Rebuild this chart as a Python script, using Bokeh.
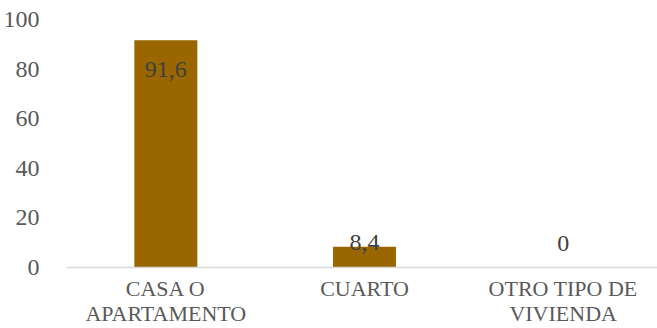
from bokeh.plotting import figure
from bokeh.models import ColumnDataSource, FixedTicker, Range1d
from bokeh.core.properties import value
from bokeh.embed import file_html
from bokeh.resources import INLINE

categories = ["CASA O\nAPARTAMENTO", "CUARTO", "OTRO TIPO DE\nVIVIENDA"]
values = [91.6, 8.4, 0]
labels = ["91,6", "8,4", "0"]
y_ticks = [0, 20, 40, 60, 80, 100]

SERIF = "Liberation Serif"

xs = list(range(len(categories)))
label_off = [29.5 if v > 20 else -24 if v == 0 else -4 for v in values]

src = ColumnDataSource(dict(x=xs, top=values, label=labels, off=label_off))

p = figure(width=657, height=328, output_backend="svg", toolbar_location=None,
           x_range=Range1d(-0.5, -0.5 + 592 / 199), y_range=Range1d(0, 103.6),
           min_border_left=65, min_border_right=0, min_border_top=10, min_border_bottom=59)
p.outline_line_color = None
p.background_fill_color = "white"
p.border_fill_color = "white"

p.vbar(x="x", top="top", width=0.317, bottom=0, source=src, fill_color="#996600", line_color=None)

p.text(x="x", y="top", text="label", y_offset="off", source=src, text_align="center",
       text_baseline="middle", text_font=value(SERIF), text_font_size="24px",
       text_color="#404040")

p.xgrid.visible = False
p.ygrid.visible = False

xa = p.xaxis[0]
xa.ticker = FixedTicker(ticks=xs)
xa.major_label_overrides = {i: c for i, c in enumerate(categories)}
xa.axis_line_color = "#d9d9d9"
xa.axis_line_width = 1.5
xa.major_tick_line_color = None
xa.minor_tick_line_color = None
xa.major_label_standoff = 2
xa.major_label_text_font = SERIF
xa.major_label_text_font_size = "22px"
xa.major_label_text_line_height = 1.0
xa.major_label_text_color = "#595959"

ya = p.yaxis[0]
ya.ticker = FixedTicker(ticks=y_ticks)
ya.axis_line_color = None
ya.major_tick_line_color = None
ya.minor_tick_line_color = None
ya.major_label_standoff = 21
ya.major_label_text_font = SERIF
ya.major_label_text_font_size = "24px"
ya.major_label_text_color = "#595959"

open("out.html", "w").write(file_html(p, INLINE))
